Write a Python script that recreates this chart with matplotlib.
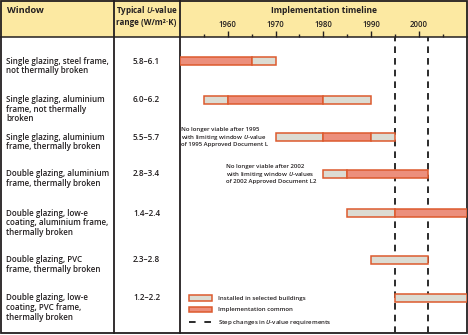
import matplotlib.pyplot as plt
from matplotlib.patches import Rectangle, Patch
from matplotlib.lines import Line2D
from matplotlib.ticker import FixedLocator

plt.rcParams['font.family'] = ['Open Sans', 'DejaVu Sans']
plt.rcParams['mathtext.fontset'] = 'custom'
plt.rcParams['mathtext.it'] = 'Open Sans:italic:semibold'
plt.rcParams['mathtext.rm'] = 'Open Sans:semibold'

windows = [
    "Single glazing, steel frame,\nnot thermally broken",
    "Single glazing, aluminium\nframe, not thermally\nbroken",
    "Single glazing, aluminium\nframe, thermally broken",
    "Double glazing, aluminium\nframe, thermally broken",
    "Double glazing, low-e\ncoating, aluminium frame,\nthermally broken",
    "Double glazing, PVC\nframe, thermally broken",
    "Double glazing, low-e\ncoating, PVC frame,\nthermally broken",
]
u_ranges = ["5.8–6.1", "6.0–6.2", "5.5–5.7", "2.8–3.4", "1.4–2.4", "2.3–2.8", "1.2–2.2"]

# (start, end, stage): 's' = installed in selected buildings, 'c' = implementation common
timeline = [
    [(1950, 1965, 'c'), (1965, 1970, 's')],
    [(1955, 1960, 's'), (1960, 1980, 'c'), (1980, 1990, 's')],
    [(1970, 1980, 's'), (1980, 1990, 'c'), (1990, 1995, 's')],
    [(1980, 1985, 's'), (1985, 2002, 'c')],
    [(1985, 1995, 's'), (1995, 2010, 'c')],
    [(1990, 2002, 's')],
    [(1995, 2010, 's')],
]
step_years = [1995, 2002]
major_years = [1960, 1970, 1980, 1990, 2000]
minor_years = [1955, 1965, 1975, 1985, 1995, 2005]

notes = {
    2: "No longer viable after 1995\nwith limiting window $U$-value\nof 1995 Approved Document L",
    3: "No longer viable after 2002\nwith limiting window $U$-values\nof 2002 Approved Document L2",
}

# layout (pixels)
W, H = 468, 335
head_h = 37
bottom = 333
col1, col2 = 113.5, 179.5
row_y = [61, 99.5, 137, 174, 213, 260, 298]

yellow = '#fce9a2'
orange = '#dd5a2e'
fill = {'c': '#ec8f7c', 's': '#dcdcd3'}
ink = '#231f20'

fig = plt.figure(figsize=(W / 100, H / 100), dpi=100)
bg = fig.add_axes([0, 0, 1, 1])
bg.set_xlim(0, W)
bg.set_ylim(H, 0)
bg.axis('off')

bg.add_patch(Rectangle((0, 0), W, head_h, color=yellow, lw=0))
bg.plot([0, W], [head_h, head_h], color=ink, lw=1.1)
for x in (col1, col2):
    bg.plot([x, x], [0, bottom], color=ink, lw=1.3)
bg.add_patch(Rectangle((0.6, 0.6), W - 1.2, bottom - 0.6, fill=False, ec=ink, lw=1.3))

bg.text(7, 10.5, "Window", fontsize=6.6, fontweight='bold', color=ink, va='center')
bg.text((col1 + col2) / 2, 15.5, "Typical $U$-value\nrange (W/m²·K)", fontsize=5.8,
        fontweight='bold', color=ink, ha='center', va='center', linespacing=1.15)
bg.text((col2 + W) / 2, 10.5, "Implementation timeline", fontsize=6.1,
        fontweight='bold', color=ink, ha='center', va='center')

for name, u, y in zip(windows, u_ranges, row_y):
    bg.text(6, y - 4.5, name, fontsize=5.75, fontweight='semibold', color=ink,
            va='top', linespacing=1.08)
    bg.text((col1 + col2) / 2, y - 4.5, u, fontsize=5.9, fontweight='semibold',
            color=ink, ha='center', va='top')

ax = fig.add_axes([(col2 + 0.5) / W, (H - bottom) / H,
                   (W - col2 - 2) / W, (bottom - head_h) / H])
ax.patch.set_alpha(0)
ax.set_xlim(1950, 2010)
ax.set_ylim(bottom, head_h)
for s in ax.spines.values():
    s.set_visible(False)
ax.yaxis.set_visible(False)
ax.xaxis.set_major_locator(FixedLocator(major_years))
ax.xaxis.set_minor_locator(FixedLocator(minor_years))
ax.xaxis.tick_top()
ax.tick_params(axis='x', which='both', direction='out', width=1.0, color=ink,
               labelsize=5.6, labelcolor=ink, pad=1.5)
ax.tick_params(axis='x', which='major', length=4.3)
ax.tick_params(axis='x', which='minor', length=2.3)
for lab in ax.get_xticklabels():
    lab.set_fontweight('semibold')

for yr in step_years:
    ax.axvline(yr, color='#2b2b2b', lw=1.4, dashes=(3.4, 2.6), zorder=1)

for segs, y in zip(timeline, row_y):
    for start, end, kind in segs:
        ax.barh(y, end - start, left=start, height=8, color=fill[kind],
                edgecolor=orange, lw=1.1, zorder=3)

for i, txt in notes.items():
    start = timeline[i][0][0]
    ax.annotate(txt, xy=(start, row_y[i]), xytext=(-5, 0), textcoords='offset points',
                ha='right', va='center', multialignment='left', fontsize=4.3,
                fontweight='semibold', color=ink, linespacing=1.15)

handles = [
    Patch(facecolor=fill['s'], edgecolor=orange, lw=1.1),
    Patch(facecolor=fill['c'], edgecolor=orange, lw=1.1),
    Line2D([], [], color='#2b2b2b', lw=1.4, dashes=(3.4, 4.5)),
]
labels = ["Installed in selected buildings", "Implementation common",
          "Step changes in $U$-value requirements"]
leg = ax.legend(handles, labels, loc='lower left', bbox_to_anchor=(9 / 288, 6 / 296),
                borderaxespad=0, borderpad=0, frameon=False, fontsize=4.4,
                handlelength=3.8, handleheight=1.0, handletextpad=1.0, labelspacing=0.9)
for t in leg.get_texts():
    t.set_fontweight('semibold')
    t.set_color(ink)

fig.savefig('out.png', dpi=100)
